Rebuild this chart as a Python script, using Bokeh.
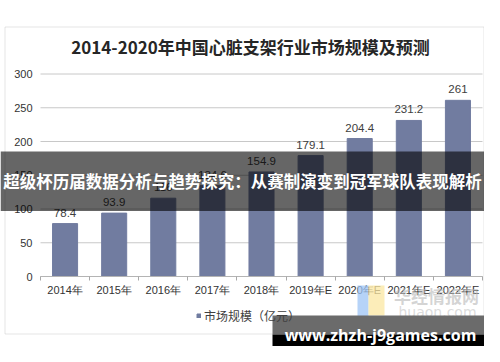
from bokeh.plotting import figure
from bokeh.models import (Range1d, FixedTicker, BoxAnnotation, Label, Legend,
                          LegendItem, ColumnDataSource)
from bokeh.core.properties import value
from bokeh.embed import file_html
from bokeh.resources import INLINE

# ---- data ----
categories = ["2014年", "2015年", "2016年", "2017年", "2018年",
              "2019年E", "2020年E", "2021年E", "2022年E"]
market_size = [78.4, 93.9, 116.0, 134.6, 154.9, 179.1, 204.4, 231.2, 261.0]
y_ticks = [0, 50, 100, 150, 200, 250, 300]
title_text = "2014-2020年中国心脏支架行业市场规模及预测"
legend_text = "市场规模（亿元）"
banner_text = "超级杯历届数据分析与趋势探究：从赛制演变到冠军球队表现解析"
site_text = "www.zhzh-j9games.com"

# ---- layout constants (canvas px) ----
W, H = 484, 346
FL, FR, FT, FB = 40, 482, 73.5, 276     # plot area edges in canvas px
n = len(categories)
YMAX = y_ticks[-1]


def dx(sx):
    return (sx - FL) * n / (FR - FL)


def dy(sy):
    return (FB - sy) * YMAX / (FB - FT)


p = figure(width=W, height=H, output_backend="svg", toolbar_location=None,
           x_range=Range1d(dx(0), dx(W)), y_range=Range1d(dy(H), dy(0)),
           min_border=0)
p.outline_line_color = None
p.background_fill_color = "white"
p.border_fill_color = "white"
p.xgrid.visible = False
p.ygrid.visible = False

centers = [i + 0.5 for i in range(n)]
src = ColumnDataSource(dict(x=centers, top=market_size, cat=categories,
                            lab=[f"{v:g}" for v in market_size]))

# horizontal grid lines over the plot area
p.segment(x0=[0] * len(y_ticks), x1=[n] * len(y_ticks), y0=y_ticks,
          y1=y_ticks, line_color="#c8c8c8", line_width=1)

bars = p.vbar(x="x", top="top", width=0.51, bottom=0, source=src,
              fill_color="#717ca0", line_color="#717ca0")
p.text(x="x", y="top", text="lab", source=src, text_align="center",
       text_baseline="bottom", y_offset=-7, text_font_size="11.5px",
       text_color="#404040", text_font=value("Liberation Sans"))

# axes (fixed inside the canvas)
p.yaxis.fixed_location = 0
p.yaxis.bounds = (0, YMAX)
p.yaxis.ticker = FixedTicker(ticks=y_ticks)
p.yaxis.axis_line_color = None
p.yaxis.major_tick_line_color = None
p.yaxis.minor_tick_line_color = None
p.yaxis.major_tick_out = 0
p.yaxis.major_label_standoff = 8
p.yaxis.major_label_text_font_size = "11px"
p.yaxis.major_label_text_font = "Liberation Sans"
p.yaxis.major_label_text_color = "#333333"

p.xaxis.fixed_location = 0
p.xaxis.bounds = (0, n)
p.xaxis.ticker = FixedTicker(ticks=centers, minor_ticks=list(range(n + 1)))
p.xaxis.major_label_overrides = {c: lab for c, lab in zip(centers, categories)}
p.xaxis.axis_line_color = "#b4b4b4"
p.xaxis.major_tick_line_color = None
p.xaxis.major_tick_out = 0
p.xaxis.minor_tick_line_color = "#a8a8a8"
p.xaxis.minor_tick_in = 0
p.xaxis.minor_tick_out = 4
p.xaxis.major_label_standoff = 3
p.xaxis.major_label_text_font_size = "11px"
p.xaxis.major_label_text_font = "Liberation Sans"
p.xaxis.major_label_text_color = "#333333"

# legend
legend = Legend(items=[LegendItem(label=legend_text, renderers=[bars])],
                location=(196, 22), glyph_width=5, glyph_height=5,
                label_standoff=3, padding=0, margin=0, spacing=0,
                label_height=14, border_line_color=None,
                background_fill_alpha=0, label_text_font_size="12px",
                label_text_font="Noto Sans CJK SC", label_text_color="#404040")
p.add_layout(legend, "center")

# title
p.add_layout(Label(x=dx(250), y=dy(46), text=title_text, text_align="center",
                   text_baseline="middle", text_font_size="17px",
                   text_font="Noto Sans CJK SC", text_font_style="bold",
                   text_color="#262626"))

# chart frame border
p.add_layout(BoxAnnotation(left=dx(4.5), right=dx(483.5), top=dy(26.5),
                           bottom=dy(333.5), fill_alpha=0,
                           line_color="#a8a8a8", line_width=1))

# watermark
p.add_layout(BoxAnnotation(left=dx(357), right=dx(368), top=dy(285),
                           bottom=dy(317), fill_color="#9ec4f5",
                           fill_alpha=0.75, line_color=None))
p.add_layout(BoxAnnotation(left=dx(368), right=dx(384), top=dy(285),
                           bottom=dy(315), fill_color="#fbe7a1",
                           fill_alpha=0.75, line_color=None))
p.add_layout(Label(x=dx(436), y=dy(295), text="华经情报网", text_align="center",
                   text_baseline="middle", text_font_size="17px",
                   text_font="Noto Sans CJK SC", text_font_style="bold",
                   text_color="#b8b8b8", text_alpha=0.6))
p.add_layout(Label(x=dx(437), y=dy(311), text="huaon.com", text_align="center",
                   text_baseline="middle", text_font_size="14px",
                   text_font="DejaVu Sans", text_color="#c4c4c4",
                   text_alpha=0.6))

# dark banner overlay
p.add_layout(BoxAnnotation(left=dx(0), right=dx(W), top=dy(151),
                           bottom=dy(210.5), fill_color="black",
                           fill_alpha=0.6, line_color=None))
p.add_layout(Label(x=dx(242), y=dy(180.5), text=banner_text,
                   text_align="center", text_baseline="middle",
                   text_font_size="16.5px", text_font="Noto Sans CJK SC",
                   text_font_style="bold", text_color="white"))

# bottom site box
p.add_layout(BoxAnnotation(left=dx(272), right=dx(W), top=dy(315),
                           bottom=dy(334), fill_color="#6b6b6b",
                           fill_alpha=1, line_color=None))
p.add_layout(BoxAnnotation(left=dx(272), right=dx(W), top=dy(334),
                           bottom=dy(H), fill_color="black",
                           fill_alpha=1, line_color=None))
p.add_layout(Label(x=dx(380), y=dy(334.5), text=site_text, text_align="center",
                   text_baseline="middle", text_font_size="16px",
                   text_font="Open Sans", text_font_style="bold",
                   text_color="white"))

open("out.html", "w").write(file_html(p, INLINE))
